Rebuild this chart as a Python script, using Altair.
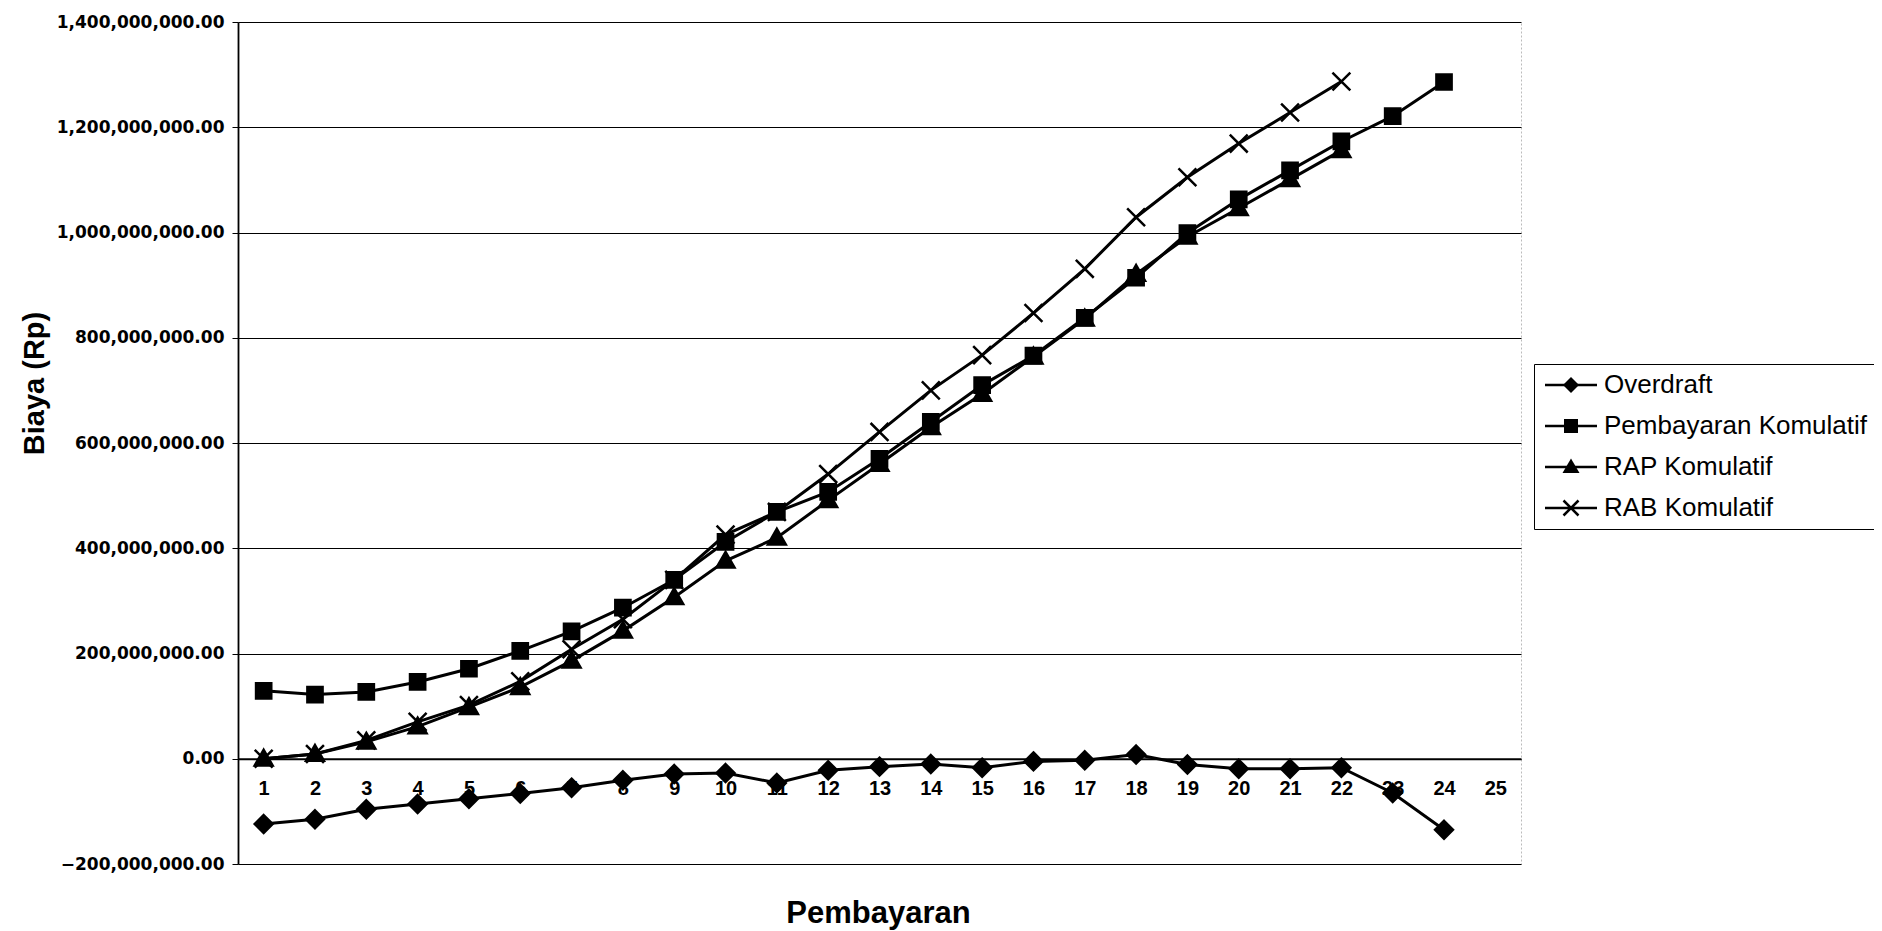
import altair as alt
import pandas as pd

periods = [str(i) for i in range(1, 26)]
series_names = ["Overdraft", "Pembayaran Komulatif", "RAP Komulatif", "RAB Komulatif"]

# values in millions of Rp
overdraft = [-124, -115, -96, -86, -76, -66, -55, -41, -29, -27, -46, -22, -15, -10,
             -17, -5, -3, 8, -11, -19, -19, -17, -65, -135]
pembayaran = [129, 122, 127, 146, 171, 205, 242, 287, 340, 412, 469, 507, 570, 640,
              710, 766, 838, 914, 999, 1063, 1118, 1173, 1221, 1286]
rap = [0, 9, 32, 61, 98, 136, 186, 243, 307, 376, 420, 491, 560, 630,
       693, 764, 836, 921, 992, 1046, 1101, 1156]
rab = [0, 9, 35, 70, 102, 147, 208, 265, 340, 426, 469, 541, 621, 700,
       767, 847, 931, 1029, 1105, 1169, 1228, 1287]

y_ticks = [-200e6, 0, 200e6, 400e6, 600e6, 800e6, 1000e6, 1200e6, 1400e6]

marker_paths = [
    "M0,-1L1,0L0,1L-1,0Z",
    "M-0.85,-0.85H0.85V0.85H-0.85Z",
    "M0,-1L1,0.75H-1Z",
    "M-1,-1L1,1M-1,1L1,-1",
]
# filled part of legend symbols
legend_fill_paths = [
    "M-0.8,0L0,-0.8L0.8,0L0,0.8Z",
    "M-0.7,-0.7H0.7V0.7H-0.7Z",
    "M0,-0.85L0.85,0.6H-0.85Z",
    "M0,0Z",
]
# stroked part of legend symbols
legend_line_paths = [
    "M-2.6,0H2.6",
    "M-2.6,0H2.6",
    "M-2.6,0H2.6",
    "M-2.6,0H2.6M-0.75,-0.75L0.75,0.75M-0.75,0.75L0.75,-0.75",
]

rows = []
for name, vals in zip(series_names, [overdraft, pembayaran, rap, rab]):
    for i, v in enumerate(vals):
        rows.append({"period": periods[i], "series": name, "value": v * 1e6})
df = pd.DataFrame(rows)

W, H = 1283, 842

x_enc = alt.X(
    "period:O",
    scale=alt.Scale(type="point", domain=periods, padding=0.5),
    axis=alt.Axis(
        title="Pembayaran",
        orient="bottom",
        offset=-H / 8,
        labelAngle=0,
        labelFont="Liberation Sans",
        labelFontWeight="bold",
        labelFontSize=20,
        labelColor="black",
        labelPadding=20,
        labelFlush=False,
        ticks=False,
        domainColor="black",
        domainWidth=1.8,
        grid=False,
        titleFont="Liberation Sans",
        titleFontWeight="bold",
        titleFontSize=31,
        titleColor="black",
        titleX=640,
        titleY=164,
        titleAlign="center",
        titleBaseline="alphabetic",
    ),
)
y_enc = alt.Y(
    "value:Q",
    scale=alt.Scale(domain=[-200e6, 1400e6], nice=False, zero=False),
    axis=alt.Axis(
        title="Biaya (Rp)",
        values=y_ticks,
        format=",.2f",
        labelFont="DejaVu Sans",
        labelFontWeight="bold",
        labelFontSize=17,
        labelColor="black",
        labelPadding=8,
        tickSize=6,
        tickColor="black",
        domainColor="black",
        domainWidth=1.8,
        grid=True,
        gridColor="black",
        gridWidth=1.2,
        titleFont="Liberation Sans",
        titleFontWeight="bold",
        titleFontSize=29,
        titleColor="black",
        titleAngle=270,
        titleX=-204,
        titleY=361,
        titleAlign="center",
        titleBaseline="middle",
    ),
)

base = alt.Chart(df)

lines = base.mark_line(color="black", strokeWidth=3).encode(
    x=x_enc, y=y_enc, detail="series:N"
)

points = base.mark_point(
    filled=True, fill="black", stroke="black", strokeWidth=2.5, opacity=1, size=320
).encode(
    x=x_enc,
    y=y_enc,
    shape=alt.Shape(
        "series:N",
        scale=alt.Scale(domain=series_names, range=marker_paths),
        legend=None,
    ),
)

legend_common = dict(
    title=None,
    orient="none",
    legendX=1296,
    legendY=342,
    symbolSize=400,
    symbolOffset=16,
    symbolOpacity=1,
    labelFont="Liberation Sans",
    labelFontSize=26,
    labelOffset=20,
    labelLimit=400,
    rowPadding=15,
    padding=8,
)

legend_fill_layer = base.transform_filter("false").mark_point(
    filled=True, color="black"
).encode(
    x=x_enc,
    y=y_enc,
    shape=alt.Shape(
        "series:N",
        scale=alt.Scale(domain=series_names, range=legend_fill_paths),
        legend=alt.Legend(
            labelColor="black",
            strokeColor="black",
            symbolFillColor="black",
            **legend_common,
        ),
    ),
)

legend_line_layer = base.transform_filter("false").mark_point(
    filled=False, color="black", strokeWidth=2.5
).encode(
    x=x_enc,
    y=y_enc,
    shape=alt.Shape(
        "series:N",
        scale=alt.Scale(domain=series_names, range=legend_line_paths),
        legend=alt.Legend(
            labelColor="transparent",
            symbolStrokeColor="black",
            symbolStrokeWidth=2.5,
            **legend_common,
        ),
    ),
)

chart = (
    alt.layer(lines, points, legend_fill_layer, legend_line_layer)
    .resolve_scale(shape="independent")
    .properties(
        width=W,
        height=H,
        autosize=alt.AutoSizeParams(type="none"),
        padding={"left": 230, "top": 14, "right": 353, "bottom": 67},
        background="white",
    )
    .configure_view(stroke="#bbbbbb", strokeDash=[2, 2], strokeWidth=1)
)

chart.save("out.html", embed_options={"renderer": "svg", "actions": False})
